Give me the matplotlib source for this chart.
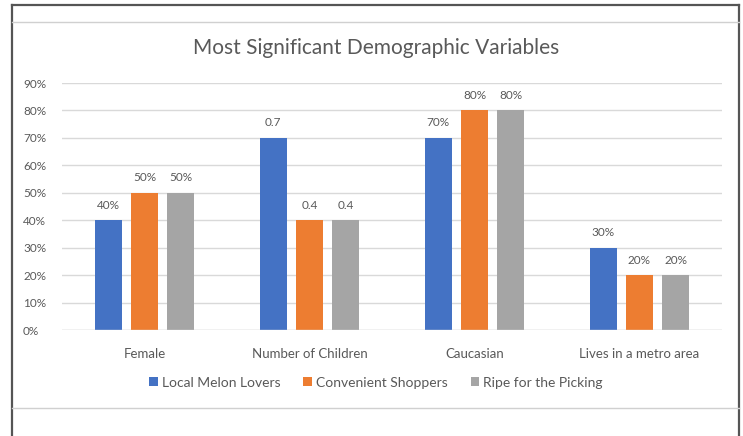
import numpy as np
import matplotlib
matplotlib.use('Agg')
import matplotlib.pyplot as plt
from matplotlib.lines import Line2D

plt.rcParams['font.family'] = ['Lato', 'DejaVu Sans']

categories = ['Female', 'Number of Children', 'Caucasian', 'Lives in a metro area']
series = ['Local Melon Lovers', 'Convenient Shoppers', 'Ripe for the Picking']
melon = [0.4, 0.7, 0.7, 0.3]
convenient = [0.5, 0.4, 0.8, 0.2]
ripe = [0.5, 0.4, 0.8, 0.2]
# children row is shown as plain decimals, the rest as percents
labels = [
    ['40%', '0.7', '70%', '30%'],
    ['50%', '0.4', '80%', '20%'],
    ['50%', '0.4', '80%', '20%'],
]
colors = ['#4472C4', '#ED7D31', '#A5A5A5']

W, H = 743, 436
fig = plt.figure(figsize=(W / 100, H / 100), dpi=100)

# surrounding frame and cell rules
fig.add_artist(Line2D([12 / W, 12 / W], [0, 1 - 5 / H], color='#555555', lw=1.6))
fig.add_artist(Line2D([739 / W, 739 / W], [0, 1 - 5 / H], color='#555555', lw=1.6))
fig.add_artist(Line2D([12 / W, 739 / W], [1 - 5 / H, 1 - 5 / H], color='#555555', lw=1.6))
fig.add_artist(Line2D([12 / W, 739 / W], [1 - 22.5 / H, 1 - 22.5 / H], color='#d0d0d0', lw=1.0))
fig.add_artist(Line2D([12 / W, 739 / W], [1 - 407.5 / H, 1 - 407.5 / H], color='#d0d0d0', lw=1.0))

ax = fig.add_axes([62 / W, (H - 330) / H, (722 - 62) / W, (330 - 83) / H])

x = np.arange(len(categories))
width = 0.165
step = 0.22
for i, (vals, c) in enumerate(zip([melon, convenient, ripe], colors)):
    pos = x + (i - 1) * step
    ax.bar(pos, vals, width, color=c, label=series[i], zorder=3)
    for p, v, t in zip(pos, vals, labels[i]):
        ax.text(p, v + 0.035, t, ha='center', va='bottom', fontsize=8.5, color='#595959')

ax.set_xlim(-0.5, 3.5)
ax.set_ylim(0, 0.9)
ax.set_yticks(np.arange(0, 0.91, 0.1))
ax.set_yticklabels(['{}%'.format(int(round(v * 100))) for v in np.arange(0, 0.91, 0.1)])
ax.set_xticks(x)
ax.set_xticklabels(categories)
ax.tick_params(axis='both', length=0, colors='#595959')
ax.tick_params(axis='x', pad=13, labelsize=9.5)
ax.tick_params(axis='y', pad=28, labelsize=8.5)
for lbl in ax.get_yticklabels():
    lbl.set_horizontalalignment('left')
ax.grid(axis='y', color='#d9d9d9', lw=1.0, zorder=0)
for s in ax.spines.values():
    s.set_visible(False)
ax.axhline(0, color='#d9d9d9', lw=1.0, zorder=4)

fig.text(376 / W, 1 - 48 / H, 'Most Significant Demographic Variables',
         ha='center', va='center', fontsize=15, color='#595959')

fig.legend(loc='center', bbox_to_anchor=(376 / W, 1 - 382.5 / H), ncol=3, frameon=False,
           fontsize=10, handlelength=0.6, handleheight=0.6, handletextpad=0.3,
           columnspacing=1.65, labelcolor='#595959')

fig.savefig('out.png', dpi=100)
